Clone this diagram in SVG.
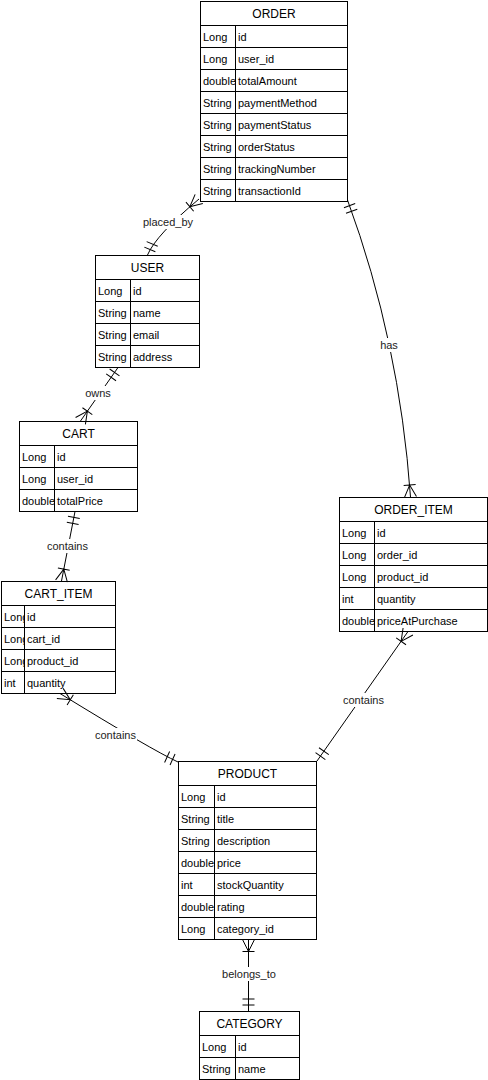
<svg xmlns="http://www.w3.org/2000/svg" width="488" height="1080" viewBox="0 0 488 1080">
<style>
.box{fill:#fff;stroke:#000;stroke-width:1}
.ln{stroke:#000;stroke-width:1;fill:none}
.h{font-family:"Liberation Sans",Arial,sans-serif;font-size:12px;fill:#000;text-anchor:middle}
.t{font-family:"Liberation Sans",Arial,sans-serif;font-size:11px;fill:#000}
.lbl{font-family:"Liberation Sans",Arial,sans-serif;font-size:11px;fill:#222;text-anchor:middle}
.edge{stroke:#000;stroke-width:1;fill:none}
.bg{fill:#fff}
</style>
<defs>
<marker id="one" markerUnits="userSpaceOnUse" orient="auto-start-reverse" refX="0" refY="0" markerWidth="1" markerHeight="1" overflow="visible">
<path d="M-6,-6 L-6,6 M-12,-6 L-12,6" stroke="#000" stroke-width="1" fill="none"/>
</marker>
<marker id="many" markerUnits="userSpaceOnUse" orient="auto-start-reverse" refX="0" refY="0" markerWidth="1" markerHeight="1" overflow="visible">
<path d="M0,-6 L-12,0 L0,6 M-12,-6 L-12,6" stroke="#000" stroke-width="1" fill="none"/>
</marker>
<clipPath id="ciType"><rect x="1" y="605" width="23" height="88"/></clipPath>
</defs>

<g id="ORDER">
<rect class="box" x="200.5" y="1.5" width="147" height="200"/>
<path class="ln" d="M200.5,25.5H347.5M200.5,47.5H347.5M200.5,69.5H347.5M200.5,91.5H347.5M200.5,113.5H347.5M200.5,135.5H347.5M200.5,157.5H347.5M200.5,179.5H347.5M235.5,25.5V201.5"/>
<text class="h" x="274" y="17.5">ORDER</text>
<text class="t" x="203" y="41">Long</text><text class="t" x="238" y="41">id</text>
<text class="t" x="203" y="63">Long</text><text class="t" x="238" y="63">user_id</text>
<text class="t" x="203" y="85">double</text><text class="t" x="238" y="85">totalAmount</text>
<text class="t" x="203" y="107">String</text><text class="t" x="238" y="107">paymentMethod</text>
<text class="t" x="203" y="129">String</text><text class="t" x="238" y="129">paymentStatus</text>
<text class="t" x="203" y="151">String</text><text class="t" x="238" y="151">orderStatus</text>
<text class="t" x="203" y="173">String</text><text class="t" x="238" y="173">trackingNumber</text>
<text class="t" x="203" y="195">String</text><text class="t" x="238" y="195">transactionId</text>
</g>

<g id="USER">
<rect class="box" x="95.5" y="255.5" width="104" height="112"/>
<path class="ln" d="M95.5,279.5H199.5M95.5,301.5H199.5M95.5,323.5H199.5M95.5,345.5H199.5M130.5,279.5V367.5"/>
<text class="h" x="147.5" y="271.5">USER</text>
<text class="t" x="98" y="295">Long</text><text class="t" x="133" y="295">id</text>
<text class="t" x="98" y="317">String</text><text class="t" x="133" y="317">name</text>
<text class="t" x="98" y="339">String</text><text class="t" x="133" y="339">email</text>
<text class="t" x="98" y="361">String</text><text class="t" x="133" y="361">address</text>
</g>

<g id="CART">
<rect class="box" x="19.5" y="421.5" width="118" height="90"/>
<path class="ln" d="M19.5,445.5H137.5M19.5,467.5H137.5M19.5,489.5H137.5M54.5,445.5V511.5"/>
<text class="h" x="78.5" y="437.5">CART</text>
<text class="t" x="22" y="461">Long</text><text class="t" x="57" y="461">id</text>
<text class="t" x="22" y="483">Long</text><text class="t" x="57" y="483">user_id</text>
<text class="t" x="22" y="505">double</text><text class="t" x="57" y="505">totalPrice</text>
</g>

<g id="CART_ITEM">
<rect class="box" x="1.5" y="581.5" width="114" height="112"/>
<path class="ln" d="M1.5,605.5H115.5M1.5,627.5H115.5M1.5,649.5H115.5M1.5,671.5H115.5M24.5,605.5V693.5"/>
<text class="h" x="58.5" y="597.5">CART_ITEM</text>
<g clip-path="url(#ciType)">
<text class="t" x="4" y="621">Long</text>
<text class="t" x="4" y="643">Long</text>
<text class="t" x="4" y="665">Long</text>
<text class="t" x="4" y="687">int</text>
</g>
<text class="t" x="27" y="621">id</text>
<text class="t" x="27" y="643">cart_id</text>
<text class="t" x="27" y="665">product_id</text>
<text class="t" x="27" y="687">quantity</text>
</g>

<g id="ORDER_ITEM">
<rect class="box" x="339.5" y="497.5" width="148" height="134"/>
<path class="ln" d="M339.5,521.5H487.5M339.5,543.5H487.5M339.5,565.5H487.5M339.5,587.5H487.5M339.5,609.5H487.5M374.5,521.5V631.5"/>
<text class="h" x="413.5" y="513.5">ORDER_ITEM</text>
<text class="t" x="342" y="537">Long</text><text class="t" x="377" y="537">id</text>
<text class="t" x="342" y="559">Long</text><text class="t" x="377" y="559">order_id</text>
<text class="t" x="342" y="581">Long</text><text class="t" x="377" y="581">product_id</text>
<text class="t" x="342" y="603">int</text><text class="t" x="377" y="603">quantity</text>
<text class="t" x="342" y="625">double</text><text class="t" x="377" y="625">priceAtPurchase</text>
</g>

<g id="PRODUCT">
<rect class="box" x="178.5" y="761.5" width="138" height="178"/>
<path class="ln" d="M178.5,785.5H316.5M178.5,807.5H316.5M178.5,829.5H316.5M178.5,851.5H316.5M178.5,873.5H316.5M178.5,895.5H316.5M178.5,917.5H316.5M214.5,785.5V939.5"/>
<text class="h" x="247.5" y="777.5">PRODUCT</text>
<text class="t" x="181" y="801">Long</text><text class="t" x="217" y="801">id</text>
<text class="t" x="181" y="823">String</text><text class="t" x="217" y="823">title</text>
<text class="t" x="181" y="845">String</text><text class="t" x="217" y="845">description</text>
<text class="t" x="181" y="867">double</text><text class="t" x="217" y="867">price</text>
<text class="t" x="181" y="889">int</text><text class="t" x="217" y="889">stockQuantity</text>
<text class="t" x="181" y="911">double</text><text class="t" x="217" y="911">rating</text>
<text class="t" x="181" y="933">Long</text><text class="t" x="217" y="933">category_id</text>
</g>

<g id="CATEGORY">
<rect class="box" x="199.5" y="1011.5" width="100" height="68"/>
<path class="ln" d="M199.5,1035.5H299.5M199.5,1057.5H299.5M235.5,1035.5V1079.5"/>
<text class="h" x="249.5" y="1027.5">CATEGORY</text>
<text class="t" x="202" y="1051">Long</text><text class="t" x="238" y="1051">id</text>
<text class="t" x="202" y="1073">String</text><text class="t" x="238" y="1073">name</text>
</g>

<g id="connectors">
<path class="edge" d="M199,199 Q156,235 147.5,255" marker-start="url(#many)" marker-end="url(#one)"/>
<path class="edge" d="M347.5,200 Q399.5,341.5 410.5,497" marker-start="url(#one)" marker-end="url(#many)"/>
<path class="edge" d="M118,367.5 L80.5,421" marker-start="url(#one)" marker-end="url(#many)"/>
<path class="edge" d="M75,511.5 L61.5,581" marker-start="url(#one)" marker-end="url(#many)"/>
<path class="edge" d="M60,693.5 Q152,750 178,762" marker-start="url(#many)" marker-end="url(#one)"/>
<path class="edge" d="M408,631.5 L317,761" marker-start="url(#many)" marker-end="url(#one)"/>
<path class="edge" d="M248.5,939.5 L248.5,1011" marker-start="url(#many)" marker-end="url(#one)"/>

<rect class="bg" x="142" y="215" width="52" height="14"/>
<text class="lbl" x="168" y="226">placed_by</text>
<rect class="bg" x="379" y="338" width="20" height="14"/>
<text class="lbl" x="389" y="349">has</text>
<rect class="bg" x="84" y="386" width="28" height="14"/>
<text class="lbl" x="98" y="397">owns</text>
<rect class="bg" x="46" y="539" width="43" height="14"/>
<text class="lbl" x="67.5" y="550">contains</text>
<rect class="bg" x="94" y="728" width="43" height="14"/>
<text class="lbl" x="115.5" y="739">contains</text>
<rect class="bg" x="342" y="693" width="43" height="14"/>
<text class="lbl" x="363.5" y="704">contains</text>
<rect class="bg" x="221" y="967" width="56" height="14"/>
<text class="lbl" x="249" y="978">belongs_to</text>
</g>
</svg>
